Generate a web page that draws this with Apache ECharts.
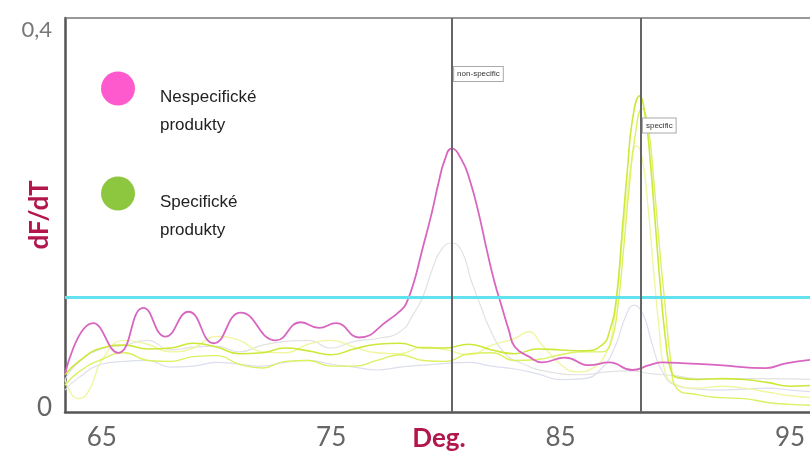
<!DOCTYPE html>
<html><head><meta charset="utf-8">
<script src="https://cdn.jsdelivr.net/npm/echarts@6/dist/echarts.min.js"></script>
<style>html,body{margin:0;padding:0;background:#fff}#c{width:810px;height:457px}</style>
</head><body><div id="c"></div><script>
// ---- data (temperature in °C, dF/dT) ----
const xTickValues = [65, 75, 85, 95];
const yTickValues = [0, 0.4];
const legendNames = ['Nespecifické produkty', 'Specifické produkty'];
const markerNames = ['non-specific', 'specific'];
const nonSpecTm = 80.25;
const specTm = 88.48;
const threshold = 0.12;

const baseT = [63.4,64,65,66,67,68,69,70,71,72,73,74,75,76,77,78,79,80,81,82,83,84,85,86];

const nonSpecT = [63.4,64.63,65.72,66.82,67.78,68.78,69.88,71.06,72.59,73.68,74.47,75.21,76.22,77.49,78.06,78.28,78.63,78.94,79.38,79.68,79.95,80.25,80.69,81.04,81.43,81.78,82.13,82.44,82.74,83.01,83.62,84.19,85.2,86.24,87.12,88.12,88.87,89.44,90.45,91.94,93.95,94.82,96];
const nonSpecV = [0.040,0.093,0.062,0.109,0.079,0.105,0.072,0.104,0.075,0.094,0.088,0.093,0.078,0.096,0.107,0.114,0.138,0.167,0.208,0.240,0.264,0.276,0.264,0.243,0.208,0.170,0.135,0.110,0.086,0.068,0.058,0.052,0.057,0.049,0.052,0.044,0.049,0.052,0.051,0.049,0.046,0.051,0.055];

const specAT = baseT.concat([86.8,87.15,87.43,87.69,87.91,88.13,88.44,88.7,88.92,89.14,89.36,89.58,89.8,90.1,91,92,93,94,95,96]);
const specAV = [0.039,0.053,0.067,0.070,0.066,0.067,0.072,0.068,0.061,0.062,0.067,0.064,0.060,0.066,0.071,0.072,0.067,0.067,0.071,0.065,0.061,0.066,0.065,0.064,
  0.070,0.086,0.119,0.191,0.253,0.306,0.331,0.308,0.259,0.193,0.128,0.075,0.044,0.036,0.034,0.035,0.034,0.031,0.027,0.028];

const specBT = baseT.concat([86.8,87.2,87.5,87.75,88,88.25,88.55,88.8,89.05,89.3,89.55,89.8,90.05,91,92,93,94,95,96]);
const specBV = [0.028,0.042,0.055,0.062,0.054,0.053,0.058,0.059,0.050,0.046,0.053,0.054,0.048,0.048,0.054,0.060,0.054,0.053,0.061,0.062,0.054,0.055,0.060,0.063,
  0.063,0.073,0.112,0.172,0.238,0.290,0.318,0.301,0.245,0.175,0.112,0.054,0.025,0.018,0.015,0.014,0.010,0.008,0.007];

const specCT = [63.4,63.7,64,64.5,65,66,67,68,69,70,71,72,73,74,75,76,77,78,79,80,81,82,83,83.6,84.2,85,85.7,86.4,87,87.3,87.6,87.85,88.1,88.3,88.55,88.8,89.05,89.3,89.55,90,91,92,93,94,95,96];
const specCV = [0.034,0.018,0.014,0.025,0.054,0.075,0.071,0.063,0.067,0.079,0.075,0.063,0.062,0.071,0.075,0.068,0.062,0.061,0.068,0.065,0.060,0.070,0.077,
  0.084,0.070,0.050,0.042,0.046,0.063,0.091,0.157,0.217,0.264,0.279,0.266,0.217,0.149,0.086,0.042,0.029,0.025,0.027,0.025,0.021,0.017,0.015];

const ghostAT = [63.4,64,65,66,67,68,69,70,71,72,73,74,75,76,77,78,78.6,79,79.4,79.8,80.25,80.7,81.1,81.5,81.9,82.5,83.3,84.5,86,87,88,89,90,91,92,94,96];
const ghostAV = [0.034,0.052,0.066,0.070,0.075,0.065,0.068,0.069,0.063,0.070,0.074,0.075,0.067,0.074,0.077,0.084,
  0.103,0.121,0.149,0.170,0.177,0.168,0.138,0.112,0.088,0.063,0.051,0.042,0.039,0.042,0.043,0.040,0.038,0.035,0.035,0.035,0.034];

const ghostBT = baseT.concat([86.8,87.4,87.8,88.2,88.6,89,89.4,90,91,92,93,94,95,96]);
const ghostBV = [0.023,0.036,0.050,0.053,0.054,0.047,0.048,0.052,0.050,0.048,0.052,0.054,0.050,0.047,0.044,0.047,0.049,0.051,0.052,0.048,0.045,0.040,0.034,0.035,
  0.046,0.070,0.098,0.112,0.102,0.070,0.044,0.028,0.024,0.023,0.024,0.025,0.023,0.021];

// ---- chart ----
const zip = (t, v) => t.map((x, i) => [x, v[i]]);
const X_MIN = 63.4, X_MAX = 96.0, Y_MAX = 0.4126;
const TICK_FONT = 'Lato, "Open Sans", sans-serif';

function lineSeries(name, t, v, color, width) {
  return {
    type: 'line', name: name, data: zip(t, v), smooth: 0.5,
    showSymbol: false, symbol: 'none', silent: true,
    lineStyle: { color: color, width: width }, itemStyle: { color: color }
  };
}

const pink = lineSeries(legendNames[0], nonSpecT, nonSpecV, '#d866c0', 1.8);
pink.markLine = {
  symbol: ['none', 'none'], silent: true, animation: false,
  label: { show: false },
  data: [
    { yAxis: threshold, lineStyle: { color: '#62e2ef', width: 3, type: 'solid' } },
    { xAxis: nonSpecTm, lineStyle: { color: '#666', width: 2, type: 'solid' } },
    { xAxis: specTm, lineStyle: { color: '#666', width: 2, type: 'solid' } }
  ]
};
pink.markPoint = {
  symbol: 'rect', symbolSize: 1, silent: true, animation: false,
  itemStyle: { color: 'rgba(0,0,0,0)' },
  label: {
    show: true, position: 'right', distance: 2,
    fontSize: 8, fontFamily: '"Liberation Sans", Arial, sans-serif', color: '#333',
    backgroundColor: '#fff', borderColor: '#aaa', borderWidth: 1, padding: [3, 3],
    formatter: p => p.name
  },
  data: [
    { name: markerNames[0], coord: [nonSpecTm, 0.354] },
    { name: markerNames[1], coord: [specTm, 0.300] }
  ]
};

const option = {
  animation: false,
  backgroundColor: '#fff',
  grid: { left: 65, top: 18, right: -3, bottom: 45, containLabel: false, outerBoundsMode: 'none' },
  legend: {
    orient: 'vertical', left: 96, top: 47, itemGap: 23,
    itemWidth: 34, itemHeight: 34, icon: 'circle', selectedMode: false,
    data: [
      { name: legendNames[0], itemStyle: { color: '#ff5acd', borderWidth: 0 } },
      { name: legendNames[1], itemStyle: { color: '#8dc63f', borderWidth: 0 } }
    ],
    formatter: n => '{s| }\n{t|' + n.replace(' ', '}\n{t|') + '}',
    textStyle: {
      fontFamily: '"Liberation Sans", Arial, sans-serif', fontSize: 17, color: '#222',
      padding: [0, 0, 0, 20],
      rich: {
        s: { lineHeight: 46, fontSize: 17 },
        t: { lineHeight: 28, fontSize: 17, color: '#222', fontFamily: '"Liberation Sans", Arial, sans-serif' }
      }
    }
  },
  xAxis: [
    {
      type: 'value', min: X_MIN, max: X_MAX, position: 'bottom',
      axisLine: { show: true, onZero: false, lineStyle: { color: '#555', width: 2.5 } },
      axisTick: { show: false }, splitLine: { show: false },
      axisLabel: {
        customValues: xTickValues, formatter: v => String(v),
        color: '#666', fontSize: 26, fontFamily: TICK_FONT, margin: 13
      },
      name: 'Deg.', nameLocation: 'middle', nameGap: 14, nameMoveOverlap: false,
      nameTextStyle: { color: '#b3164c', fontWeight: 'bold', fontSize: 26, fontFamily: TICK_FONT }
    },
    {
      type: 'value', min: X_MIN, max: X_MAX, position: 'top',
      axisLine: { show: true, onZero: false, lineStyle: { color: '#777', width: 1.5 } },
      axisTick: { show: false }, axisLabel: { show: false }, splitLine: { show: false }
    }
  ],
  yAxis: {
    type: 'value', min: 0, max: Y_MAX,
    axisLine: { show: true, lineStyle: { color: '#555', width: 2.5 } },
    axisTick: { show: false }, splitLine: { show: false },
    axisLabel: {
      customValues: yTickValues, margin: 13,
      formatter: v => v === 0 ? '{b|0}' : '{a|' + String(v).replace('.', ',') + '}',
      rich: {
        a: { color: '#777', fontSize: 22, fontFamily: TICK_FONT },
        b: { color: '#666', fontSize: 26, fontFamily: TICK_FONT, padding: [0, 0, 8, 0] }
      }
    },
    name: 'dF/dT', nameLocation: 'middle', nameRotate: 90, nameGap: 12, nameMoveOverlap: false,
    nameTextStyle: { color: '#b3164c', fontWeight: 'bold', fontSize: 26, fontFamily: TICK_FONT }
  },
  series: [
    lineSeries('ghostB', ghostBT, ghostBV, '#dcdfee', 1.2),
    lineSeries('ghostA', ghostAT, ghostAV, '#e2e2e2', 1.2),
    lineSeries('specC', specCT, specCV, '#f0f6a0', 1.4),
    lineSeries('specB', specBT, specBV, '#dcf060', 1.4),
    lineSeries(legendNames[1], specAT, specAV, '#cde83a', 1.6),
    pink
  ]
};

const chart = echarts.init(document.getElementById('c'), null, { renderer: 'canvas' });
chart.setOption(option);
</script></body></html>
